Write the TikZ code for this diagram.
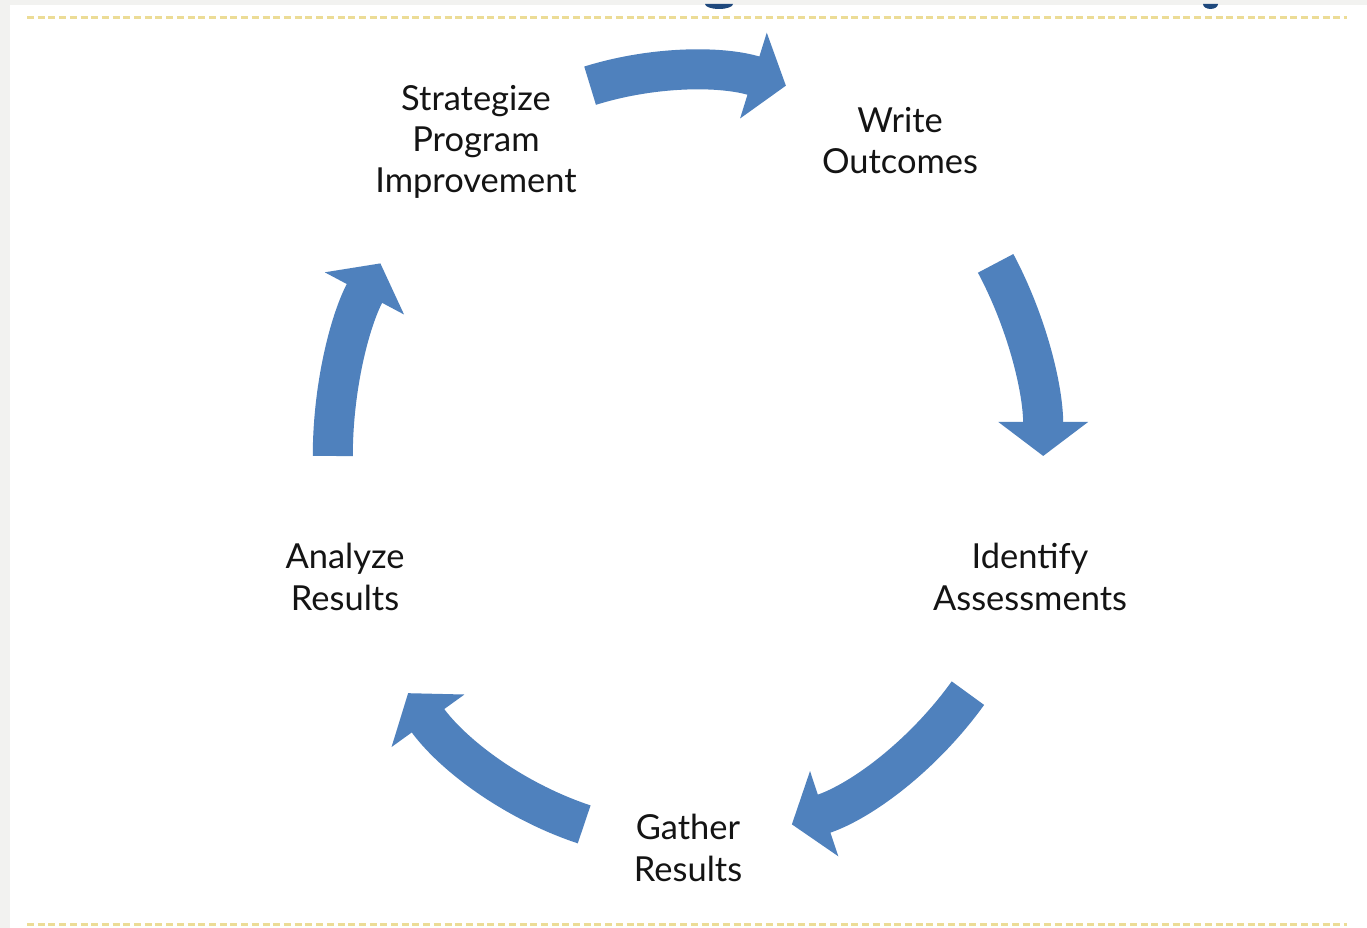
\documentclass[tikz,border=0pt]{standalone}
\usepackage{fontspec}
\setmainfont{Lato}
\usetikzlibrary{arrows.meta}
\definecolor{arrowblue}{RGB}{79,129,189}
\definecolor{dashgold}{RGB}{236,220,150}
\definecolor{pagegrey}{RGB}{242,242,240}
\definecolor{titleblue}{RGB}{31,73,125}

\begin{document}
\begin{tikzpicture}[x=0.01cm, y=0.01cm,
phase label/.style={align=center, font=\fontsize{9.8}{11.7}\selectfont, text=black!92},
cycle arrow/.style={draw=arrowblue, line width=0.4cm, line cap=butt,
  -{Triangle[width=0.88cm, length=0.34cm]}},
rule line/.style={draw=dashgold, line width=0.03cm, dash pattern=on 0.07cm off 0.037cm},
]
\useasboundingbox (0,0) rectangle (1367,928);
\fill[pagegrey] (0,0) rectangle (1367,928);
\fill[white] (10,0) rectangle (1367,923);

% cut-off title above the slide
\fill[titleblue] (705,924) arc[start angle=180, end angle=360, x radius=0.14cm, y radius=0.05cm] -- cycle;
\fill[titleblue] (1203,924) arc[start angle=180, end angle=360, x radius=0.075cm, y radius=0.05cm] -- cycle;

\draw[rule line] (27,910) -- (1347,910);
\draw[rule line] (27,3) -- (1347,3);

\coordinate (hub) at (688,472);

\node[phase label] (strategize) at (476,786) {Strategize\\Program\\Improvement};
\node[phase label] (write) at (900,787) {Write\\Outcomes};
\node[phase label] (identify) at (1030,351) {Identify\\Assessments};
\node[phase label] (gather) at (688,80) {Gather\\Results};
\node[phase label] (analyze) at (345,351) {Analyze\\Results};

\draw[cycle arrow] ([shift={(106:3.55cm and 3.85cm)}]hub) arc[start angle=106, end angle=74, x radius=3.55cm, y radius=3.85cm];
\draw[cycle arrow] ([shift={(30:3.55cm and 3.85cm)}]hub) arc[start angle=30, end angle=0, x radius=3.55cm, y radius=3.85cm];
\draw[cycle arrow] ([shift={(-38:3.55cm and 3.85cm)}]hub) arc[start angle=-38, end angle=-73, x radius=3.55cm, y radius=3.85cm];
\draw[cycle arrow] ([shift={(-107:3.55cm and 3.85cm)}]hub) arc[start angle=-107, end angle=-142, x radius=3.55cm, y radius=3.85cm];
\draw[cycle arrow] ([shift={(180:3.55cm and 3.85cm)}]hub) arc[start angle=180, end angle=150, x radius=3.55cm, y radius=3.85cm];

\end{tikzpicture}
\end{document}
